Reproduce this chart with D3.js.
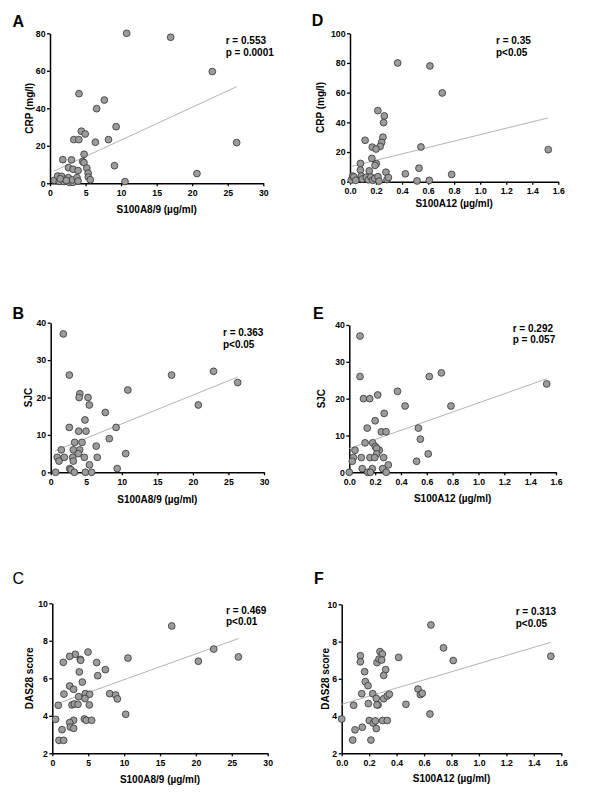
<!DOCTYPE html>
<html>
<head>
<meta charset="utf-8">
<script src="https://cdn.jsdelivr.net/npm/d3@7"></script>
<style>
  body { margin: 0; background: #fff; }
  svg { display: block; font-family: "Liberation Sans", Arial, sans-serif; }
</style>
</head>
<body>
<svg id="fig" width="600" height="806"></svg>
<script>
// ---- values: [x, y] per patient ----
// A: S100A8/9 (ug/ml) vs CRP (mg/l)
const a89Crp = [
  [10.78, 80], [16.97, 77.9], [22.83, 59.6], [26.25, 21.7], [20.67, 5.2],
  [4.08, 47.8], [7.64, 44.4], [6.56, 39.8], [9.3, 30.2], [4.41, 27.8],
  [4.95, 26.3], [3.35, 23.3], [4.05, 23.3], [8.22, 23.3], [6.38, 21.9],
  [4.8, 15.5], [1.8, 12.6], [3.02, 12.5], [4.6, 11.6], [4.78, 11.0],
  [9.07, 9.4], [10.55, 0.9], [2.6, 8.3], [3.25, 7.5], [3.95, 6.8],
  [5.18, 8.1], [5.37, 5.4], [5.39, 3.3], [5.67, 1.9], [0.61, 1.6],
  [1.08, 3.9], [1.64, 3.7], [1.31, 1.0], [1.97, 0.9], [2.58, 3.0],
  [2.72, 0.5], [3.23, 0.5], [3.14, 1.8], [3.8, 3.0], [3.94, 1.2],
  [1.45, 2.4], [2.3, 1.5]
]
// B: S100A8/9 vs SJC
const a89Sjc = [
  [1.78, 37], [2.62, 26], [4.1, 21], [4.0, 20], [5.25, 20],
  [5.43, 18], [7.68, 16], [4.82, 14], [2.62, 12], [9.2, 12],
  [10.85, 22], [17.0, 26], [22.9, 27], [26.3, 24], [20.76, 18],
  [3.93, 11], [4.96, 11], [8.24, 9], [3.37, 8], [4.4, 8],
  [6.4, 7], [1.49, 6], [3.18, 6], [4.08, 6], [3.88, 5],
  [10.55, 5], [0.93, 4], [1.91, 4], [3.09, 4], [4.73, 4],
  [6.55, 4], [1.17, 3], [3.18, 3], [5.45, 2], [2.67, 1],
  [2.85, 0.7], [9.35, 1], [0.7, 0], [3.32, 0], [4.87, 0], [5.76, 0]
]
// C: S100A8/9 vs DAS28
const a89Das = [
  [16.63, 8.79], [22.48, 7.56], [20.34, 6.91], [25.92, 7.14], [10.54, 7.08],
  [4.97, 7.40], [3.20, 7.28], [2.42, 7.17], [3.90, 7.01], [3.95, 6.96],
  [1.53, 6.85], [6.18, 6.84], [7.39, 6.46], [3.76, 6.34], [6.32, 6.14],
  [4.18, 5.80], [2.42, 5.59], [2.97, 5.41], [1.62, 5.16], [4.6, 5.18],
  [5.2, 5.15], [7.99, 5.18], [8.82, 5.11], [3.67, 5.02], [4.55, 4.92],
  [9.06, 4.90], [0.84, 4.56], [2.74, 4.58], [3.07, 4.63], [3.58, 4.61],
  [5.16, 4.58], [10.22, 4.08], [0.46, 3.81], [4.46, 3.83], [4.74, 3.76],
  [5.48, 3.76], [2.97, 3.76], [2.42, 3.64], [2.51, 3.40], [2.97, 3.33],
  [1.35, 3.26], [0.93, 2.69], [1.58, 2.69]
]
// D: S100A12 (ug/ml) vs CRP
const a12Crp = [
  [0.366, 80], [0.614, 78], [0.709, 59.8], [1.523, 21.6], [0.214, 47.9],
  [0.264, 44.3], [0.258, 39.8], [0.253, 30.0], [0.116, 27.9], [0.243, 26.5],
  [0.232, 23.8], [0.171, 23.3], [0.2, 22.0], [0.545, 23.4], [0.168, 15.7],
  [0.08, 12.3], [0.202, 12.2], [0.192, 11.0], [0.53, 9.1], [0.08, 7.9],
  [0.148, 7.3], [0.276, 6.4], [0.425, 5.3], [0.781, 4.9], [0.515, 0.5],
  [0.609, 0.9], [0.01, 1.1], [0.021, 3.8], [0.03, 3.2], [0.044, 0.9],
  [0.087, 3.8], [0.094, 1.8], [0.125, 3.0], [0.14, 1.3], [0.161, 3.2],
  [0.175, 0.9], [0.19, 2.2], [0.215, 3.4], [0.223, 0.4], [0.284, 1.4],
  [0.295, 2.8]
]
// E: S100A12 vs SJC
const a12Sjc = [
  [0.083, 37], [0.083, 26], [0.11, 20], [0.158, 20], [0.22, 21],
  [0.373, 22], [0.27, 16], [0.2, 14], [0.432, 18], [0.619, 26],
  [0.713, 27], [0.787, 18], [1.528, 24], [0.139, 12], [0.535, 12],
  [0.248, 11], [0.284, 11], [0.55, 9], [0.122, 8], [0.181, 8],
  [0.044, 6], [0.201, 7], [0.232, 6], [0.212, 6.5], [0.212, 5],
  [0.031, 4], [0.093, 4], [0.16, 4], [0.197, 4], [0.266, 4],
  [0.023, 3], [0.521, 3], [0.611, 5], [0.302, 2], [0.1, 1],
  [0.178, 1], [0.258, 1], [0.0, 0], [0.142, 0], [0.163, 0], [0.286, 0]
]
// F: S100A12 vs DAS28
const a12Das = [
  [0.650, 8.89], [0.742, 7.66], [0.813, 6.98], [1.524, 7.21], [0.415, 7.15],
  [0.279, 7.46], [0.296, 7.33], [0.136, 7.24], [0.136, 6.91], [0.257, 6.87],
  [0.272, 7.06], [0.291, 7.01], [0.167, 6.38], [0.32, 6.49], [0.306, 6.18],
  [0.172, 5.85], [0.192, 5.63], [0.146, 5.2], [0.226, 5.2], [0.556, 5.45],
  [0.573, 5.15], [0.587, 5.22], [0.252, 4.95], [0.306, 4.93], [0.332, 5.08],
  [0.347, 5.17], [0.087, 4.58], [0.194, 4.67], [0.265, 4.6], [0.257, 4.6],
  [0.468, 4.63], [0.643, 4.11], [0.0, 3.84], [0.201, 3.76], [0.23, 3.62],
  [0.245, 3.74], [0.298, 3.76], [0.332, 3.76], [0.252, 3.33], [0.15, 3.4],
  [0.097, 3.26], [0.08, 2.71], [0.213, 2.71]
]

// regression lines as drawn: [intercept, slope]
const fitA = [5.53, 1.752]
const fitB = [5.30, 0.767]
const fitC = [4.55, 0.1377]
const fitD = [10.1, 21.6]
const fitE = [6.45, 12.4]
const fitF = [4.63, 2.185]

// statistics printed in each panel
const statsA = ["r = 0.553", "p = 0.0001"]
const statsB = ["r = 0.363", "p<0.05"]
const statsC = ["r = 0.469", "p<0.01"]
const statsD = ["r = 0.35", "p<0.05"]
const statsE = ["r = 0.292", "p = 0.057"]
const statsF = ["r = 0.313", "p<0.05"]

// tick values
const ticksA89 = [0, 5, 10, 15, 20, 25, 30]
const ticksA12 = [0, 0.2, 0.4, 0.6, 0.8, 1.0, 1.2, 1.4, 1.6]
const ticksCrpA = [0, 20, 40, 60, 80]
const ticksCrpD = [0, 20, 40, 60, 80, 100]
const ticksSjc = [0, 10, 20, 30, 40]
const ticksDas = [2, 4, 6, 8, 10]

const lblA89 = "S100A8/9 (\u00b5g/ml)"
const lblA12 = "S100A12 (\u00b5g/ml)"

// layout of the six panels (page pixels)
const panels = [
  {letter: "A", bold: true, data: a89Crp, fit: fitA, stats: statsA,
   xTicks: ticksA89, yTicks: ticksCrpA, xFmt: "d", yLabel: "CRP (mg/l)", xLabel: lblA89,
   box: {l: 50, r: 263.3, t: 33.3, b: 183.3}, lx: 12.5, ly: 26.7, sx: 225.7, sy: 43.8, ylx: 29.5, xld: 30},
  {letter: "B", bold: true, data: a89Sjc, fit: fitB, stats: statsB,
   xTicks: ticksA89, yTicks: ticksSjc, xFmt: "d", yLabel: "SJC", xLabel: lblA89,
   box: {l: 50.7, r: 264, t: 322.7, b: 472.3}, lx: 12.5, ly: 318.6, sx: 223, sy: 336.4, ylx: 28, xld: 30.5},
  {letter: "C", bold: false, data: a89Das, fit: fitC, stats: statsC,
   xTicks: ticksA89, yTicks: ticksDas, xFmt: "d", yLabel: "DAS28 score", xLabel: lblA89,
   box: {l: 52.3, r: 267.7, t: 603.3, b: 753.3}, lx: 12.5, ly: 584, sx: 226, sy: 613.6, ylx: 29, xld: 30},
  {letter: "D", bold: true, data: a12Crp, fit: fitD, stats: statsD,
   xTicks: ticksA12, yTicks: ticksCrpD, xFmt: ".1f", yLabel: "CRP (mg/l)", xLabel: lblA12,
   box: {l: 350, r: 558.3, t: 33.3, b: 181.7}, lx: 311.8, ly: 26, sx: 496, sy: 43.8, ylx: 320.5, xld: 25.5},
  {letter: "E", bold: true, data: a12Sjc, fit: fitE, stats: statsE,
   xTicks: ticksA12, yTicks: ticksSjc, xFmt: ".1f", yLabel: "SJC", xLabel: lblA12,
   box: {l: 349.3, r: 556, t: 325, b: 472.3}, lx: 313, ly: 318.6, sx: 512.7, sy: 331.6, ylx: 321.5, xld: 29.5},
  {letter: "F", bold: true, data: a12Das, fit: fitF, stats: statsF,
   xTicks: ticksA12, yTicks: ticksDas, xFmt: ".1f", yLabel: "DAS28 score", xLabel: lblA12,
   box: {l: 341.7, r: 561.3, t: 604.3, b: 753.3}, lx: 314, ly: 584, sx: 515.7, sy: 615.2, ylx: 325.5, xld: 29}
]

const svg = d3.select("#fig")

panels.forEach(p => {
  const x = d3.scaleLinear()
    .domain(d3.extent(p.xTicks))
    .range([p.box.l, p.box.r])
  const y = d3.scaleLinear()
    .domain(d3.extent(p.yTicks))
    .range([p.box.b, p.box.t])

  const g = svg.append("g").attr("class", "panel-" + p.letter)

  // panel letter
  g.append("text")
    .attr("x", p.lx)
    .attr("y", p.ly)
    .attr("font-size", "16px")
    .attr("font-weight", p.bold ? "bold" : "normal")
    .text(p.letter)

  // axes
  const xAxis = g.append("g")
    .attr("transform", `translate(0,${p.box.b})`)
    .call(d3.axisBottom(x).tickValues(p.xTicks).tickFormat(d3.format(p.xFmt))
      .tickSize(3).tickSizeOuter(0).tickPadding(3.5))
  const yAxis = g.append("g")
    .attr("transform", `translate(${p.box.l},0)`)
    .call(d3.axisLeft(y).tickValues(p.yTicks).tickFormat(d3.format("d"))
      .tickSize(3).tickSizeOuter(0).tickPadding(1.5))

  ;[xAxis, yAxis].forEach(a => {
    a.select(".domain").attr("stroke", "#000").attr("stroke-width", 1.5)
    a.selectAll(".tick line").attr("stroke", "#000").attr("stroke-width", 1.3)
    a.selectAll(".tick text")
      .attr("fill", "#000")
      .attr("font-size", "8.7px")
      .attr("font-weight", "bold")
      .attr("font-family", "Liberation Sans, Arial, sans-serif")
  })

  // axis titles
  g.append("text")
    .attr("x", (p.box.l + p.box.r) / 2)
    .attr("y", p.box.b + p.xld)
    .attr("text-anchor", "middle")
    .attr("font-size", "10px")
    .attr("font-weight", "bold")
    .text(p.xLabel)

  g.append("text")
    .attr("transform", `translate(${p.ylx},${(p.box.t + p.box.b) / 2}) rotate(-90)`)
    .attr("dy", "0.35em")
    .attr("text-anchor", "middle")
    .attr("font-size", "10px")
    .attr("font-weight", "bold")
    .text(p.yLabel)

  // regression line across the data range
  const xr = d3.extent(p.data, d => d[0])
  g.append("line")
    .attr("x1", x(xr[0]))
    .attr("y1", y(p.fit[0] + p.fit[1] * xr[0]))
    .attr("x2", x(xr[1]))
    .attr("y2", y(p.fit[0] + p.fit[1] * xr[1]))
    .attr("stroke", "#b4b4b4")
    .attr("stroke-width", 1)

  // points
  g.append("g")
    .selectAll("circle")
    .data(p.data)
    .join("circle")
      .attr("cx", d => x(d[0]))
      .attr("cy", d => y(d[1]))
      .attr("r", 3.4)
      .attr("fill", "#9c9c9c")
      .attr("stroke", "#333")
      .attr("stroke-width", 0.8)

  // r / p text
  g.append("g")
    .selectAll("text")
    .data(p.stats)
    .join("text")
      .attr("x", p.sx)
      .attr("y", (_, i) => p.sy + i * 11.8)
      .attr("font-size", "10px")
      .attr("font-weight", "bold")
      .text(d => d)
})
</script>
</body>
</html>
